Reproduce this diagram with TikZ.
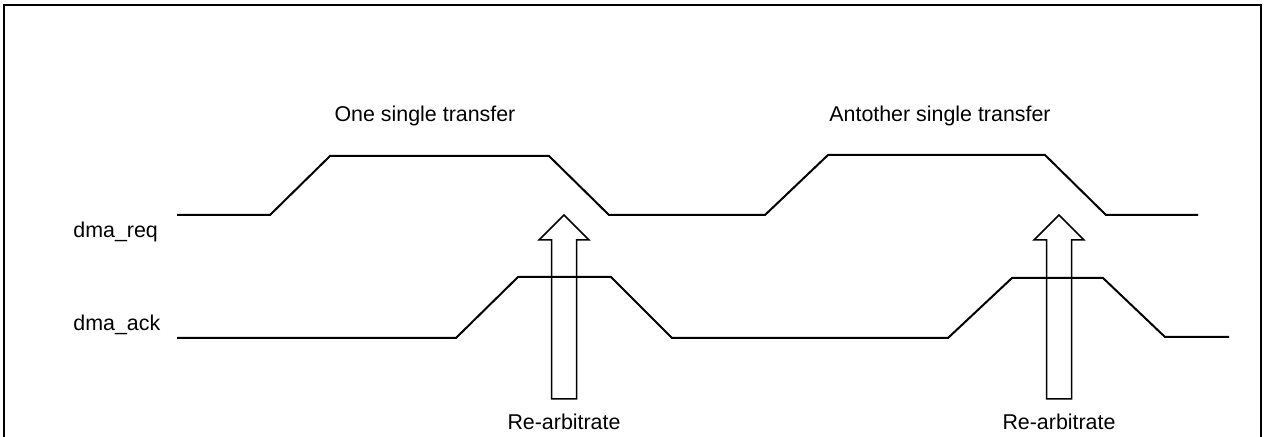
\documentclass[tikz,border=0pt]{standalone}
\usepackage{fontspec}
\setmainfont{Liberation Sans}
\usetikzlibrary{positioning}

\begin{document}
\begin{tikzpicture}[x=0.5pt,y=-0.5pt,
		wave/.style={line width=1pt,line join=miter},
		rearb/.style={line width=0.75pt,line join=miter},
		lbl/.style={inner sep=0pt,font=\fontsize{10.7}{12.8}\selectfont}]

		\clip (0,0) rectangle (1265,437);
		\draw[line width=1.3pt] (4,450) -- (4,5) -- (1261,5) -- (1261,450);

		% signal names
		\node[lbl,anchor=base west] (req)	at (73,238)	{dma\_req};
		\node[lbl,anchor=base west] (ack)	at (73,331)	{dma\_ack};

		\node[lbl,anchor=base] (xfer1)	at (425,122)	{One single transfer};
		\node[lbl,anchor=base] (xfer2)	at (940,122)	{Antother single transfer};

		% waveforms
		\draw[wave] (177,215) -- (270,215) -- (330,156) -- (549,156) -- (609,215)
			-- (765,215) -- (828,155) -- (1045,155) -- (1106,215) -- (1198,215);
		\draw[wave] (177,338) -- (456,338) -- (518,277) -- (611,277) -- (672,338)
			-- (948,338) -- (1012,278) -- (1103,278) -- (1165,337) -- (1229,337);

		% re-arbitration arrows
		\coordinate (a1) at (564,399);
		\coordinate (a2) at (1059,399);
		\draw[rearb] (a1) ++(-12.5,0) -- ++(0,-159) -- ++(-12.5,0) -- ++(25,-25)
			-- ++(25,25) -- ++(-12.5,0) -- ++(0,159) -- cycle;
		\draw[rearb] (a2) ++(-12.5,0) -- ++(0,-159) -- ++(-12.5,0) -- ++(25,-25)
			-- ++(25,25) -- ++(-12.5,0) -- ++(0,159) -- cycle;

		\node[lbl,below=7.5pt of a1] (rearb1) {Re-arbitrate};
		\node[lbl,below=7.5pt of a2] (rearb2) {Re-arbitrate};
	\end{tikzpicture}
\end{document}
